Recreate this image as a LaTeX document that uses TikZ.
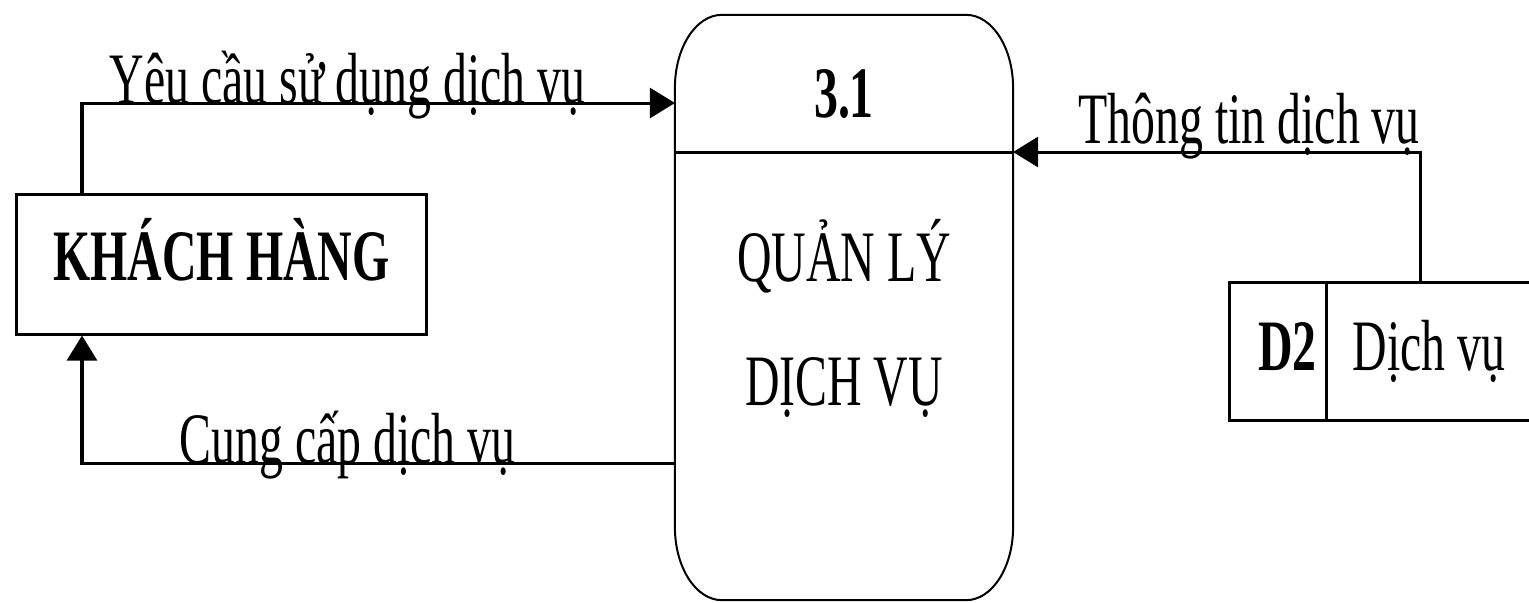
\documentclass[tikz,border=0pt]{standalone}
\usepackage{fontspec}
\setmainfont[FakeStretch=0.66]{Liberation Serif}
\usetikzlibrary{arrows.meta}

\begin{document}
\begin{tikzpicture}[x=0.01cm, y=-0.01cm, >={Triangle[length=0.25cm, width=0.3cm]},
    line width=0.03cm,
    every node/.style={font=\fontsize{20.6pt}{24pt}\selectfont},
    bold/.style={font=\fontsize{20.6pt}{24pt}\selectfont\bfseries},
    entity/.style={draw, bold, minimum width=4.09cm, minimum height=1.39cm,
        inner sep=0pt, text height=0.48cm, text depth=0.17cm},
    flowlabel/.style={anchor=base, inner sep=0pt}]

    \useasboundingbox (0,0) rectangle (1529,602);

    % 1. Tác nhân ngoài: KHÁCH HÀNG
    \node[entity] (kh) at (221.5,264.5) {KHÁCH HÀNG};

    % 2. Tiến trình 3.1 (hộp bo góc)
    \node[minimum width=3.38cm, minimum height=5.85cm, inner sep=0pt, outer sep=0pt] (ql) at (844,307.5) {};
    \draw[line width=0.02cm] ([yshift=-0.73cm]ql.north west)
        arc[start angle=180, end angle=90, x radius=0.47cm, y radius=0.73cm]
        -- ([xshift=-0.47cm]ql.north east)
        arc[start angle=90, end angle=0, x radius=0.47cm, y radius=0.73cm]
        -- ([yshift=0.73cm]ql.south east)
        arc[start angle=0, end angle=-90, x radius=0.47cm, y radius=0.73cm]
        -- ([xshift=0.47cm]ql.south west)
        arc[start angle=270, end angle=180, x radius=0.47cm, y radius=0.73cm]
        -- cycle;
    \coordinate (qlsep) at (844,152);
    \draw (ql.west |- qlsep) -- (ql.east |- qlsep);
    \node[bold, anchor=base, inner sep=0pt] (qlid) at (844,117) {3.1};
    \node[anchor=base, inner sep=0pt, align=center,
        font=\fontsize{20.6pt}{35pt}\selectfont] (qlname) at (844,405) {QUẢN LÝ\\DỊCH VỤ};

    % 3. Kho dữ liệu D2
    \node[minimum width=2.99cm, minimum height=1.37cm, inner sep=0pt, outer sep=0pt] (ds) at (1379.5,351.5) {};
    \draw (ds.north east) -- (ds.north west) -- (ds.south west) -- (ds.south east);
    \draw ([xshift=0.97cm]ds.north west) -- ([xshift=0.97cm]ds.south west);
    \node[bold, anchor=base, inner sep=0pt] (dsid) at (1287.5,370) {D2};
    \node[anchor=base, inner sep=0pt] (dsname) at (1429,370) {Dịch vụ};

    % 4. Các luồng dữ liệu
    \coordinate (yc) at (82,103);
    \draw[->] (kh.north -| yc) |- (ql.west |- yc)
        node[flowlabel, pos=0.724] {Yêu cầu sử dụng dịch vụ};

    \coordinate (cc) at (82,463);
    \draw[->] (ql.west |- cc) -| (kh.south -| cc)
        node[flowlabel, pos=0.276] {Cung cấp dịch vụ};

    \coordinate (tc) at (1420,152);
    \draw[->] (ds.north -| tc) |- (ql.east |- tc)
        node[flowlabel, pos=0.71, yshift=0.09cm] {Thông tin dịch vụ};

\end{tikzpicture}
\end{document}
